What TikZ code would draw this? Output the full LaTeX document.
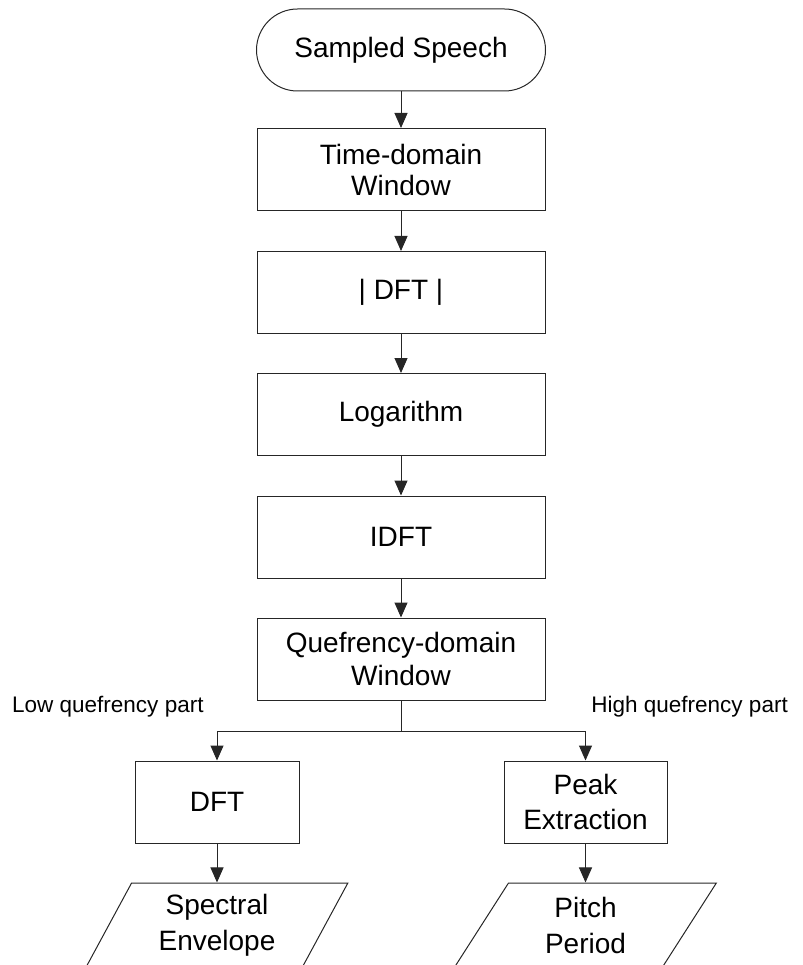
\documentclass[tikz,border=0pt]{standalone}
\usepackage{fontspec}
\setmainfont{Liberation Sans}
\usetikzlibrary{arrows.meta,shapes.geometric}
\begin{document}
\begin{tikzpicture}[x=1pt,y=-1pt,
  box/.style={draw=black!85,line width=1pt,rectangle,minimum width=288pt,minimum height=82pt,inner sep=0pt,align=center,font=\fontsize{28}{31}\selectfont},
  smallbox/.style={box,minimum width=163pt},
  term/.style={box,minimum width=289pt,rounded corners=41pt},
  io/.style={draw=black!85,line width=1pt,trapezium,trapezium left angle=63.43,trapezium right angle=116.57,trapezium stretches=true,minimum width=262pt,minimum height=84pt,inner sep=0pt,align=center,font=\fontsize{28}{31}\selectfont},
  flow/.style={draw=black!85,line width=1pt,-{Triangle[length=15pt,width=13pt]}},
  wire/.style={draw=black!85,line width=1pt},
  lbl/.style={font=\fontsize{22.5}{27}\selectfont,inner sep=0pt}]
\useasboundingbox (0,0) rectangle (802,965);
\node[term] (ss) at (401,50) {Sampled Speech};
\node[box] (tw) at (401,169.5) {Time-domain\\Window};
\node[box] (adft) at (401,292.5) {| DFT |};
\node[box] (log) at (401,414.5) {Logarithm};
\node[box] (idft) at (401,537) {IDFT};
\node[box] (qw) at (401,659) {Quefrency-domain\\[2pt]Window};
\coordinate (split) at (401,731);
\node[smallbox,minimum width=164pt] (dftl) at (217,802) {DFT};
\node[smallbox] (peak) at (585.5,802) {Peak\\[4pt]Extraction};
\node[io] (se) at (217,925) {Spectral\\[5pt]Envelope};
\node[io] (pp) at (585.5,925) {Pitch\\[5pt]Period};
\node[lbl,anchor=west] (low) at (12,707) {Low quefrency part};
\node[lbl,anchor=east] (high) at (788,707) {High quefrency part};
\draw[flow] (ss) -- (tw);
\draw[flow] (tw) -- (adft);
\draw[flow] (adft) -- (log);
\draw[flow] (log) -- (idft);
\draw[flow] (idft) -- (qw);
\draw[wire] (qw.south) -- (split);
\draw[flow] (split) -| (dftl.north);
\draw[flow] (split) -| (peak.north);
\draw[flow] (dftl.south) -- (dftl.south |- se.north);
\draw[flow] (peak.south) -- (peak.south |- pp.north);
\end{tikzpicture}
\end{document}
